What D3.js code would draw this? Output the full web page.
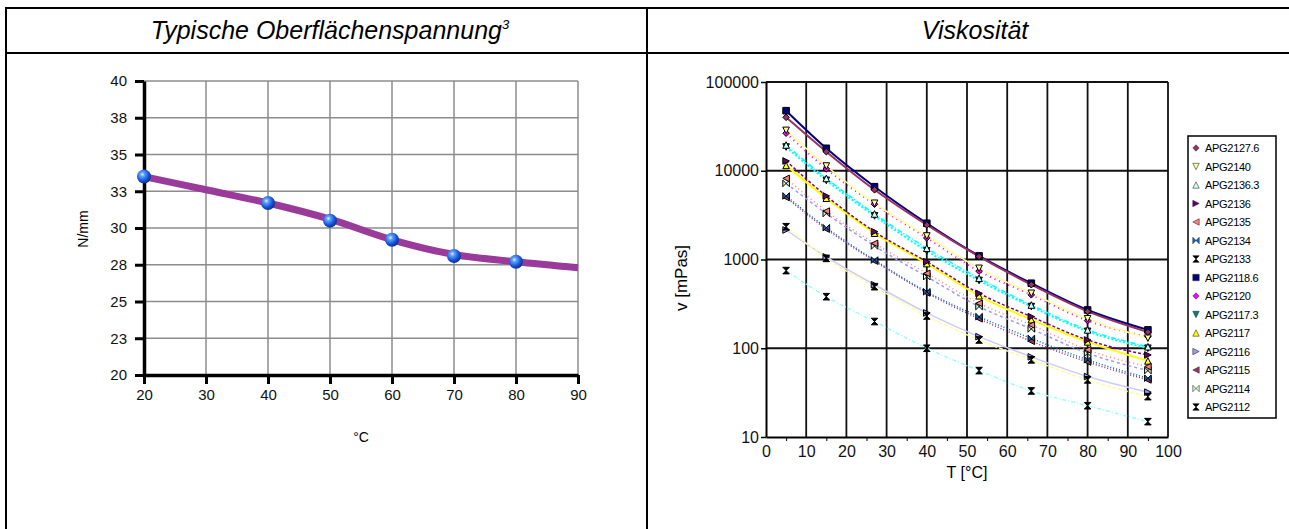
<!DOCTYPE html>
<html lang="de">
<head>
<meta charset="UTF-8"/>
<title>Oberflächenspannung und Viskosität</title>
<script src="https://d3js.org/d3.v7.min.js"></script>
<style>
	body { margin: 0; background: #fff; }
	svg text { font-family: "Liberation Sans", Arial, sans-serif; }
</style>
</head>
<body>
<script>

	var w = 1289;
	var h = 529;

	// ---- left chart: surface tension ----
	var tempC = [20, 40, 50, 60, 70, 80];
	var tension = [33.5, 31.7, 30.5, 29.2, 28.1, 27.7];
	var fitTemp = [20, 30, 40, 50, 60, 70, 80, 90];
	var fitTension = [33.5, 32.6, 31.7, 30.6, 29.2, 28.2, 27.7, 27.3];
	var tensionTicks = [20, 22.5, 25, 27.5, 30, 32.5, 35, 37.5, 40];
	var tempTicks = [20, 30, 40, 50, 60, 70, 80, 90];

	// ---- right chart: viscosity ----
	var visTemp = [5, 15, 27, 40, 53, 66, 80, 95];
	var visTicksX = [0, 10, 20, 30, 40, 50, 60, 70, 80, 90, 100];
	var visMinorX = [5, 15, 25, 35, 45, 55, 65, 75, 85, 95];
	var visTicksY = [10, 100, 1000, 10000, 100000];

	var apg21276 = [40000, 16400, 6100, 2450, 1080, 520, 260, 152];
	var apg2140  = [28500, 11300, 4300, 1840, 795, 416, 215, 130];
	var apg21363 = [19500, 8200, 3260, 1340, 614, 307, 161, 104];
	var apg2136  = [12900, 5200, 2060, 944, 416, 227, 124, 84];
	var apg2135  = [8200, 3510, 1520, 698, 321, 183, 96, 62];
	var apg2134  = [5200, 2280, 986, 433, 227, 129, 74, 46];
	var apg2133  = [2340, 1030, 494, 231, 124, 74, 44, 28.5];
	var apg21186 = [47500, 17900, 6610, 2560, 1097, 540, 270, 161];
	var apg2120  = [26500, 10500, 4200, 1750, 740, 400, 205, 135];
	var apg21173 = [18500, 7800, 3100, 1250, 580, 295, 155, 100];
	var apg2117  = [11500, 4900, 1980, 900, 390, 210, 118, 72];
	var apg2116  = [2150, 1070, 520, 250, 135, 80, 48, 32];
	var apg2115  = [5000, 2200, 960, 420, 215, 120, 70, 44];
	var apg2114  = [7200, 3300, 1420, 640, 295, 165, 88, 56];
	var apg2112  = [750, 381, 200, 100, 56, 33, 22.5, 14.9];

	var seriesNames = ["APG2127.6", "APG2140", "APG2136.3", "APG2136", "APG2135", "APG2134", "APG2133",
		"APG2118.6", "APG2120", "APG2117.3", "APG2117", "APG2116", "APG2115", "APG2114", "APG2112"];
	var seriesValues = [apg21276, apg2140, apg21363, apg2136, apg2135, apg2134, apg2133,
		apg21186, apg2120, apg21173, apg2117, apg2116, apg2115, apg2114, apg2112];

	// styles per series
	var markerShape = ["diamond", "triDown", "triUp", "triRight", "triLeft", "bowtie", "hourglass",
		"square", "diamond", "triDown", "triUp", "triRight", "triLeft", "bowtie", "hourglass"];
	var markerFill = ["#993366", "#ffff99", "#ccffff", "#660066", "#ff8080", "#0066cc", "#000000",
		"#000080", "#ff00ff", "#008080", "#ffff00", "#9999ff", "#993366", "#ccffcc", "#000000"];
	var lineColor = ["#993366", "#ffff99", "#00ffff", "#800080", "#ff8080", "#0066cc", "#ffff99",
		"#000080", "#ff00ff", "#00ffff", "#ffff00", "#ccccff", "#993366", "#9999ff", "#99ffff"];
	var lineDash = ["", "", "5,2,1,2", "3,2", "1,3", "1,2", "4,2",
		"", "1,4", "2,2", "", "", "1,2", "3,3", "4,2,1,2"];
	var lineWidth = [2, 1.5, 1.5, 1.5, 1.5, 1.5, 1.5, 2, 2, 2, 2, 1.5, 1.5, 1.5, 1.5];

	var svg = d3.select("body")
				.append("svg")
				.attr("width", w)
				.attr("height", h);

	//table frame and headers
	var frame = svg.append("g").attr("stroke", "#000").attr("stroke-width", 2);
	frame.append("line").attr("x1", 5).attr("x2", w).attr("y1", 8).attr("y2", 8);
	frame.append("line").attr("x1", 5).attr("x2", w).attr("y1", 53).attr("y2", 53);
	frame.append("line").attr("x1", 6).attr("x2", 6).attr("y1", 7).attr("y2", h);
	frame.append("line").attr("x1", 647).attr("x2", 647).attr("y1", 7).attr("y2", h);

	var t1 = svg.append("text")
		.attr("x", 330).attr("y", 39)
		.attr("text-anchor", "middle")
		.attr("font-size", 25)
		.attr("font-style", "italic")
		.text("Typische Oberflächenspannung");
	t1.append("tspan").attr("dy", -10).attr("font-size", 13).text("3");

	svg.append("text")
		.attr("x", 975).attr("y", 39)
		.attr("text-anchor", "middle")
		.attr("font-size", 25)
		.attr("font-style", "italic")
		.text("Viskosität");

	// ================= left chart =================
	var x1 = d3.scaleLinear().domain([20, 90]).range([144, 578]);
	var y1 = d3.scaleLinear().domain([20, 40]).range([375, 81]);

	var grid1 = svg.append("g").attr("stroke", "#8c8c8c").attr("stroke-width", 1.5);
	grid1.selectAll("line.v")
		.data(tempTicks)
		.enter()
		.append("line")
		.attr("x1", function(d){ return x1(d); })
		.attr("x2", function(d){ return x1(d); })
		.attr("y1", y1(40))
		.attr("y2", y1(20));
	grid1.selectAll("line.h")
		.data(tensionTicks)
		.enter()
		.append("line")
		.attr("x1", x1(20))
		.attr("x2", x1(90))
		.attr("y1", function(d){ return y1(d); })
		.attr("y2", function(d){ return y1(d); });

	var yAxis1 = d3.axisLeft(y1)
		.tickValues(tensionTicks)
		.tickFormat(d3.format(".0f"))
		.tickSize(9)
		.tickSizeOuter(0)
		.tickPadding(8);
	var xAxis1 = d3.axisBottom(x1)
		.tickValues(tempTicks)
		.tickSize(9)
		.tickSizeOuter(0)
		.tickPadding(5);

	var gx1 = svg.append("g")
		.attr("transform", "translate(0," + y1(20) + ")")
		.call(xAxis1);
	var gy1 = svg.append("g")
		.attr("transform", "translate(" + x1(20) + ",0)")
		.call(yAxis1);
	[gx1, gy1].forEach(function(g){
		g.select(".domain").attr("stroke-width", 3.5);
		g.selectAll(".tick line").attr("stroke-width", 3);
		g.selectAll(".tick text")
			.attr("font-size", 15)
			.attr("font-family", "'Liberation Sans', Arial, sans-serif")
			.attr("fill", "#111");
	});

	//fitted curve
	var fitLine = d3.line()
		.x(function(d){ return x1(d[0]); })
		.y(function(d){ return y1(d[1]); })
		.curve(d3.curveCatmullRom);
	svg.append("path")
		.datum(d3.zip(fitTemp, fitTension))
		.attr("d", fitLine)
		.attr("fill", "none")
		.attr("stroke", "#9a3a9a")
		.attr("stroke-width", 7);

	//blue balls
	var defs = svg.append("defs");
	var ball = defs.append("radialGradient")
		.attr("id", "ball")
		.attr("cx", "38%").attr("cy", "35%").attr("r", "70%");
	ball.append("stop").attr("offset", "0%").attr("stop-color", "#e6f2ff");
	ball.append("stop").attr("offset", "22%").attr("stop-color", "#5ea2ff");
	ball.append("stop").attr("offset", "65%").attr("stop-color", "#1552d6");
	ball.append("stop").attr("offset", "100%").attr("stop-color", "#0b2c82");

	svg.selectAll("circle.pt")
		.data(d3.zip(tempC, tension))
		.enter()
		.append("circle")
		.attr("class", "pt")
		.attr("cx", function(d){ return x1(d[0]); })
		.attr("cy", function(d){ return y1(d[1]); })
		.attr("r", 7)
		.attr("fill", "url(#ball)");

	svg.append("text")
		.attr("transform", "translate(88," + 229 + ") rotate(-90)")
		.attr("text-anchor", "middle")
		.attr("font-size", 14)
		.text("N/mm");
	svg.append("text")
		.attr("x", (x1(20) + x1(90)) / 2)
		.attr("y", 442)
		.attr("text-anchor", "middle")
		.attr("font-size", 14)
		.text("°C");

	// ================= right chart =================
	var x2 = d3.scaleLinear().domain([0, 100]).range([766, 1168]);
	var y2 = d3.scaleLog().domain([10, 100000]).range([437, 82]);

	var grid2 = svg.append("g").attr("stroke", "#111").attr("stroke-width", 1.8);
	grid2.selectAll("line.v")
		.data(visTicksX.slice(1))
		.enter()
		.append("line")
		.attr("x1", function(d){ return x2(d); })
		.attr("x2", function(d){ return x2(d); })
		.attr("y1", y2(100000))
		.attr("y2", y2(10));
	grid2.selectAll("line.h")
		.data(visTicksY.slice(1))
		.enter()
		.append("line")
		.attr("x1", x2(0))
		.attr("x2", x2(100))
		.attr("y1", function(d){ return y2(d); })
		.attr("y2", function(d){ return y2(d); });

	var gx2 = svg.append("g")
		.attr("transform", "translate(0," + y2(10) + ")")
		.call(d3.axisBottom(x2).tickValues(visTicksX).tickSize(0).tickSizeOuter(0).tickPadding(9));
	svg.append("g")
		.attr("transform", "translate(0," + y2(10) + ")")
		.call(d3.axisBottom(x2).tickValues(visMinorX).tickFormat("").tickSize(4).tickSizeOuter(0))
		.select(".domain").remove();
	var gy2 = svg.append("g")
		.attr("transform", "translate(" + x2(0) + ",0)")
		.call(d3.axisLeft(y2).tickValues(visTicksY).tickFormat(d3.format("d")).tickSize(5).tickSizeOuter(0).tickPadding(2));
	[gx2, gy2].forEach(function(g){
		g.select(".domain").attr("stroke-width", 2);
		g.selectAll(".tick line").attr("stroke-width", 1.5);
		g.selectAll(".tick text")
			.attr("font-size", 16)
			.attr("font-family", "'Liberation Sans', Arial, sans-serif")
			.attr("fill", "#111");
	});

	svg.append("text")
		.attr("x", (x2(0) + x2(100)) / 2)
		.attr("y", 478)
		.attr("text-anchor", "middle")
		.attr("font-size", 16)
		.text("T [°C]");
	svg.append("text")
		.attr("transform", "translate(687,278) rotate(-90)")
		.attr("text-anchor", "middle")
		.attr("font-size", 17)
		.text("v [mPas]");

	// marker paths
	function marker(shape, s) {
		switch (shape) {
			case "diamond":   return "M0," + (-s) + "L" + s + ",0L0," + s + "L" + (-s) + ",0Z";
			case "square":    return "M" + (-s) + "," + (-s) + "h" + 2 * s + "v" + 2 * s + "h" + (-2 * s) + "Z";
			case "triUp":     return "M0," + (-s) + "L" + s + "," + s + "L" + (-s) + "," + s + "Z";
			case "triDown":   return "M" + (-s) + "," + (-s) + "L" + s + "," + (-s) + "L0," + s + "Z";
			case "triRight":  return "M" + (-s) + "," + (-s) + "L" + s + ",0L" + (-s) + "," + s + "Z";
			case "triLeft":   return "M" + s + "," + (-s) + "L" + (-s) + ",0L" + s + "," + s + "Z";
			case "bowtie":    return "M" + (-s) + "," + (-s) + "L" + s + "," + s + "L" + s + "," + (-s) + "L" + (-s) + "," + s + "Z";
			case "hourglass": return "M" + (-s) + "," + (-s) + "L" + s + "," + (-s) + "L" + (-s) + "," + s + "L" + s + "," + s + "Z";
		}
	}

	var visLine = d3.line()
		.defined(function(d){ return d[1] != null; })
		.x(function(d){ return x2(d[0]); })
		.y(function(d){ return y2(d[1]); })
		.curve(d3.curveMonotoneX);

	// draw from bottom of legend to top so the dark top lines stay visible
	d3.range(seriesNames.length).reverse().forEach(function(i){
		var pts = d3.zip(visTemp, seriesValues[i]);
		svg.append("path")
			.datum(pts)
			.attr("d", visLine)
			.attr("fill", "none")
			.attr("stroke", lineColor[i])
			.attr("stroke-width", lineWidth[i])
			.attr("stroke-dasharray", lineDash[i]);
	});
	d3.range(seriesNames.length).reverse().forEach(function(i){
		var pts = d3.zip(visTemp, seriesValues[i]).filter(function(d){ return d[1] != null; });
		svg.selectAll(null)
			.data(pts)
			.enter()
			.append("path")
			.attr("transform", function(d){ return "translate(" + x2(d[0]) + "," + y2(d[1]) + ")"; })
			.attr("d", marker(markerShape[i], 3.3))
			.attr("fill", markerFill[i])
			.attr("stroke", "#000")
			.attr("stroke-width", 1);
	});

	// legend
	var lg = svg.append("g");
	lg.append("rect")
		.attr("x", 1188).attr("y", 136)
		.attr("width", 88).attr("height", 282)
		.attr("fill", "#fff")
		.attr("stroke", "#000")
		.attr("stroke-width", 1.5);
	var rows = lg.selectAll("g.row")
		.data(seriesNames)
		.enter()
		.append("g")
		.attr("transform", function(d, i){ return "translate(1196," + (148 + i * 18.5) + ")"; });
	rows.append("path")
		.attr("d", function(d, i){ return marker(markerShape[i], 3.2); })
		.attr("fill", function(d, i){ return markerFill[i]; })
		.attr("stroke", function(d, i){ return markerFill[i] == "#000000" ? "#000" : "#333"; })
		.attr("stroke-width", 0.6);
	rows.append("text")
		.attr("x", 9)
		.attr("y", 4)
		.attr("font-size", 11)
		.attr("letter-spacing", -0.3)
		.text(function(d){ return d; });

</script>
</body>
</html>
